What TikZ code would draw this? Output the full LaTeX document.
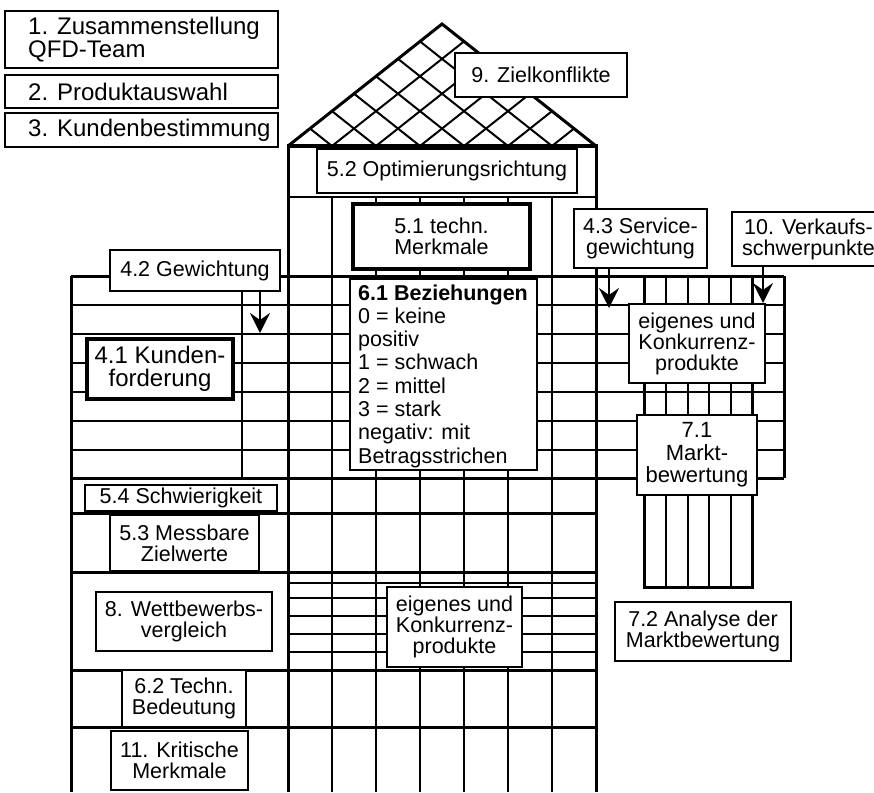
\documentclass[tikz,border=0pt]{standalone}
\usepackage{fontspec}
\setmainfont{Liberation Sans}
\usetikzlibrary{arrows.meta}
\newcommand\fsn{\fontsize{21.5pt}{21pt}\selectfont}
\newcommand\fsbig{\fontsize{24pt}{22.5pt}\selectfont}
\newcommand\fsrel{\fontsize{21.5pt}{23.3pt}\selectfont}
\newcommand\fskf{\fontsize{24pt}{23.3pt}\selectfont}
\tikzset{
  gridthick/.style={line width=3pt},
  gridthin/.style={line width=1.8pt},
  hatchline/.style={line width=2pt},
  box/.style={draw, line width=2.2pt, fill=white, inner sep=0pt, align=center, font=\fsn},
  boldbox/.style={box, line width=4pt},
  arr/.style={line width=2pt, -{Stealth[length=20pt,width=20pt,inset=7pt]}}
}
\begin{document}
\begin{tikzpicture}[x=1pt,y=-1pt]
\useasboundingbox (0,0) rectangle (874,792);
\clip (0,0) rectangle (874,792);

% ---- grid rows across left, centre and right parts
\foreach \yy in {305,334,363,392,421,450} \draw[gridthin] (71,\yy) -- (784,\yy);
\draw[gridthick] (71,276) -- (784,276);
\draw[gridthick] (71,478) -- (784,478);
\draw[gridthick] (71,276) -- (71,792);
\draw[gridthin] (242,276) -- (242,478);
\draw[gridthick] (784,276) -- (784,478);

% right strip (market evaluation)
\foreach \xx in {666,688,709,731} \draw[gridthin] (\xx,276) -- (\xx,587);
\draw[gridthick] (644,276) -- (644,587) -- (752,587) -- (752,276);

% central column
\draw[gridthin] (288,197) -- (596,197);
\foreach \xx in {332,376,420,464,508,552} \draw[gridthin] (\xx,197) -- (\xx,792);
\draw[gridthick] (288,146) -- (288,792);
\draw[gridthick] (596,146) -- (596,792);

% bottom rows
\foreach \yy in {513,572,670,727} \draw[gridthick] (71,\yy) -- (596,\yy);
\foreach \yy in {583,598,616,634,652} \draw[gridthin] (288,\yy) -- (596,\yy);

% roof
\foreach \xx in {332,376,420,464,508,552} {
  \draw[hatchline] (\xx,146) -- ({(596+\xx)/2},{146-0.7922*(596-\xx)/2});
  \draw[hatchline] (\xx,146) -- ({(288+\xx)/2},{146-0.7922*(\xx-288)/2});
}
\draw[gridthick, line join=miter] (288,146) -- (442,24) -- (596,146);
\draw[line width=4.5pt] (286.5,146) -- (597.5,146);

% ---- boxes
\node[box, minimum width=273, minimum height=57] (b1) at (141.5,39.5) {};
\node[anchor=west, inner sep=0pt, align=left, font=\fsbig] (b1t) at (28,39.5) {1. Zusammenstellung\\QFD-Team};
\node[box, minimum width=273, minimum height=33] (b2) at (141.5,91.5) {};
\node[anchor=west, inner sep=0pt, align=left, font=\fsbig] (b2t) at (28,91.5) {2. Produktauswahl};
\node[box, minimum width=273, minimum height=34] (b3) at (141.5,130) {};
\node[anchor=west, inner sep=0pt, align=left, font=\fsbig] (b3t) at (28,130) {3. Kundenbestimmung};

\node[box, minimum width=172, minimum height=44] (b9) at (541,75) {9. Zielkonflikte};
\node[box, minimum width=260, minimum height=44] (b52) at (447,171) {5.2 Optimierungsrichtung};
\node[boldbox, minimum width=177, minimum height=65] (b51) at (441.5,236.5) {5.1 techn.\\Merkmale};
\node[box, minimum width=170, minimum height=41] (b42) at (195,270.5) {4.2 Gewichtung};
\node[box, minimum width=133, minimum height=59] (b43) at (640.5,238.5) {4.3 Service-\\gewichtung};
\node[box, minimum width=153, minimum height=54] (b10) at (808.5,239) {10. Verkaufs-\\schwerpunkte};

\node[boldbox, minimum width=146, minimum height=60, font=\fskf] (b41) at (160,369) {4.1 Kunden-\\forderung};
\node[box, minimum width=187, minimum height=191] (b61) at (443.5,374.5) {};
\node[anchor=west, inner sep=0pt, align=left, font=\fsrel] (b61t) at (358,376)
  {\textbf{6.1 Beziehungen}\\0 = keine\\positiv\\1 = schwach\\2 = mittel\\3 = stark\\negativ: mit\\Betragsstrichen};
\node[box, minimum width=136, minimum height=79] (bek1) at (697,343.5) {eigenes und\\Konkurrenz-\\produkte};
\node[box, minimum width=120, minimum height=80, font=\fontsize{22pt}{22.5pt}\selectfont] (b71) at (697,455) {7.1\\Markt-\\bewertung};
\node[box, minimum width=176, minimum height=59] (b72) at (703,631.5) {7.2 Analyse der\\Marktbewertung};

\node[box, minimum width=192, minimum height=26] (b54) at (181,498) {5.4 Schwierigkeit};
\node[box, minimum width=149, minimum height=56] (b53) at (184.5,543) {5.3 Messbare\\Zielwerte};
\node[box, minimum width=176, minimum height=59] (b8) at (184,621.5) {8. Wettbewerbs-\\vergleich};
\node[box, minimum width=124, minimum height=57] (b62) at (184,698.5) {6.2 Techn.\\Bedeutung};
\node[box, minimum width=137, minimum height=59] (b11) at (179.5,760.5) {11. Kritische\\Merkmale};
\node[box, minimum width=135, minimum height=80] (bek2) at (454.5,627) {eigenes und\\Konkurrenz-\\produkte};

% ---- arrows
\coordinate (t42) at (260,333);
\coordinate (t43) at (609,308);
\coordinate (t10) at (763,303);
\draw[arr] (b42.south -| t42) -- (t42);
\draw[arr] (b43.south -| t43) -- (t43);
\draw[arr] (b10.south -| t10) -- (t10);
\end{tikzpicture}
\end{document}
